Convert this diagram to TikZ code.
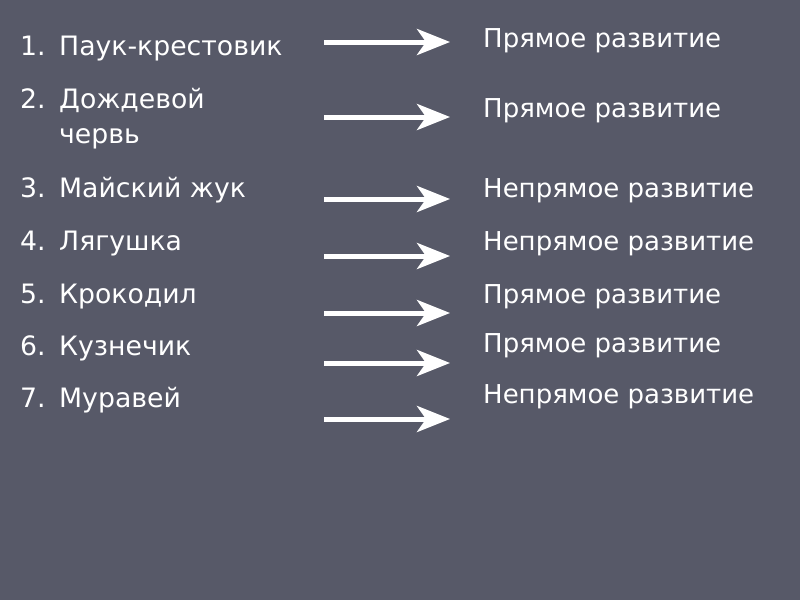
\documentclass[tikz,border=0pt]{standalone}
\usepackage{fontspec}
\setmainfont{DejaVu Sans}
\usepackage{xcolor}
\definecolor{slate}{RGB}{87,89,104}
\usepackage{tikz}
\usetikzlibrary{arrows.meta}

\begin{document}
\begin{tikzpicture}[x=1pt, y=-1pt,
        item/.style={anchor=base west, inner sep=0pt, text=white, font=\fontsize{26.7}{32}\selectfont},
        dev/.style={item, font=\fontsize{26}{32}\selectfont},
        bigarrow/.style={-{Stealth[length=33pt, width=26pt, inset=9pt]}, line width=5pt, white}
    ]
        \fill[slate] (0,0) rectangle (800,600);

        % left column
        \node[item] (n1) at (20,55) {1.};
        \node[item] (n2) at (20,108) {2.};
        \node[item] (n3) at (20,197) {3.};
        \node[item] (n4) at (20,250) {4.};
        \node[item] (n5) at (20,303) {5.};
        \node[item] (n6) at (20,355) {6.};
        \node[item] (n7) at (20,407) {7.};

        \node[item] (spider) at (59,55) {Паук-крестовик};
        \node[item] (worm) at (59,108) {Дождевой};
        \node[item] (wormb) at (59,143) {червь};
        \node[item] (beetle) at (59,197) {Майский жук};
        \node[item] (frog) at (59,250) {Лягушка};
        \node[item] (croc) at (59,303) {Крокодил};
        \node[item] (hopper) at (59,355) {Кузнечик};
        \node[item] (ant) at (59,407) {Муравей};

        % right column
        \node[dev] (d1) at (483,47) {Прямое развитие};
        \node[dev] (d2) at (483,117) {Прямое развитие};
        \node[dev] (d3) at (483,197) {Непрямое развитие};
        \node[dev] (d4) at (483,250) {Непрямое развитие};
        \node[dev] (d5) at (483,303) {Прямое развитие};
        \node[dev] (d6) at (483,352) {Прямое развитие};
        \node[dev] (d7) at (483,403) {Непрямое развитие};

        % arrows
        \foreach \y [count=\i] in {42,117,199,256,313,363,419} {
            \coordinate (s\i) at (324,\y);
            \coordinate (e\i) at (450,\y);
            \draw[bigarrow] (s\i) -- (e\i);
        }
    \end{tikzpicture}
\end{document}
